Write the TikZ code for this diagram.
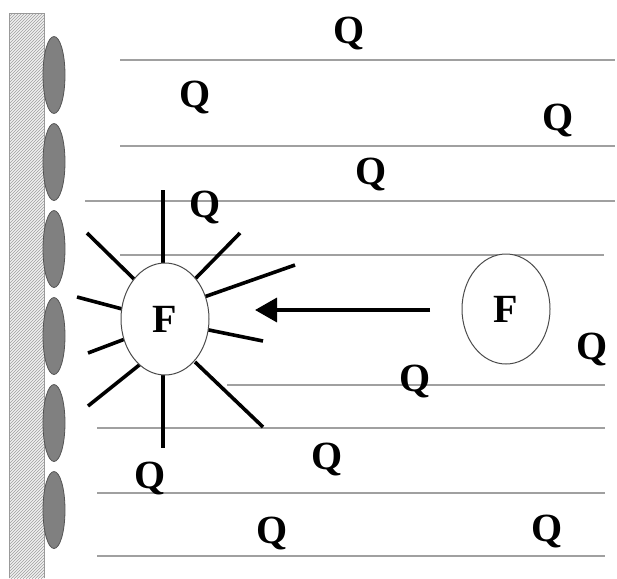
\documentclass[tikz,border=0pt]{standalone}
\usepackage{fontspec}
\setmainfont{Liberation Serif}
\usetikzlibrary{shapes.geometric,arrows.meta,patterns}
\definecolor{linegray}{HTML}{A0A0A0}
\definecolor{cellgray}{HTML}{808080}
\definecolor{celledge}{HTML}{555555}
\tikzset{
  hline/.style={draw=linegray, line width=1.3pt},
  ray/.style={draw=black, line width=3.6pt},
  cell/.style={ellipse, fill=cellgray, draw=celledge, line width=0.8pt, minimum width=22pt, minimum height=77pt, inner sep=0pt},
  fcirc/.style={ellipse, draw=black!70, fill=white, line width=1pt, inner sep=0pt, font=\fontsize{40}{40}\selectfont\bfseries},
  qlab/.style={anchor=base, inner sep=0pt, font=\fontsize{40}{40}\selectfont\bfseries},
}
\begin{document}
\begin{tikzpicture}[x=1pt,y=-1pt]
\useasboundingbox (0,0) rectangle (617,578);
% wall
\path[fill=gray!12] (9,14) rectangle (44,578);
\path[pattern=north east lines, pattern color=gray!75] (9,14) rectangle (44,578);
\draw[draw=gray!80, line width=1pt] (9,578) -- (9,14) -- (44,14) -- (44,578);
% cells on wall
\foreach \y [count=\i] in {75,162,249,336,423,510}
  \node[cell] (cell\i) at (54,\y) {};
% horizontal lines
\draw[hline] (120,60) -- (615,60);
\draw[hline] (120,146) -- (615,146);
\draw[hline] (85,201) -- (615,201);
\draw[hline] (120,255) -- (604,255);
\draw[hline] (227,385) -- (605,385);
\draw[hline] (97,428) -- (605,428);
\draw[hline] (97,493) -- (605,493);
\draw[hline] (97,556) -- (605,556);
% rays
\draw[ray] (163,270) -- (163,190);
\draw[ray] (135,280) -- (87,233);
\draw[ray] (195,279) -- (240,233);
\draw[ray] (204,297) -- (295,265);
\draw[ray] (126,310) -- (77,297);
\draw[ray] (125,339) -- (88,353);
\draw[ray] (143,362) -- (88,406);
\draw[ray] (163,370) -- (163,448);
\draw[ray] (195,362) -- (263,427);
\draw[ray] (204,329) -- (263,341);
% F cells
\node[fcirc, minimum width=88pt, minimum height=112pt] (F1) at (165,319) {F};
\node[fcirc, minimum width=88pt, minimum height=110pt] (F2) at (506,309) {F};
% arrow
\coordinate (arrS) at (430,310);
\coordinate (arrE) at (255,310);
\draw[line width=3.6pt, -{Triangle[length=22pt,width=24pt]}] (arrS) -- (arrE);
% Q labels
\node[qlab] (q1) at (349,44) {Q};
\node[qlab] (q2) at (195,107) {Q};
\node[qlab] (q3) at (558,130) {Q};
\node[qlab] (q4) at (371,184) {Q};
\node[qlab] (q5) at (205,217) {Q};
\node[qlab] (q6) at (592,359) {Q};
\node[qlab] (q7) at (415,391) {Q};
\node[qlab] (q8) at (327,469) {Q};
\node[qlab] (q9) at (150,488) {Q};
\node[qlab] (q10) at (272,543) {Q};
\node[qlab] (q11) at (547,541) {Q};
\end{tikzpicture}
\end{document}
